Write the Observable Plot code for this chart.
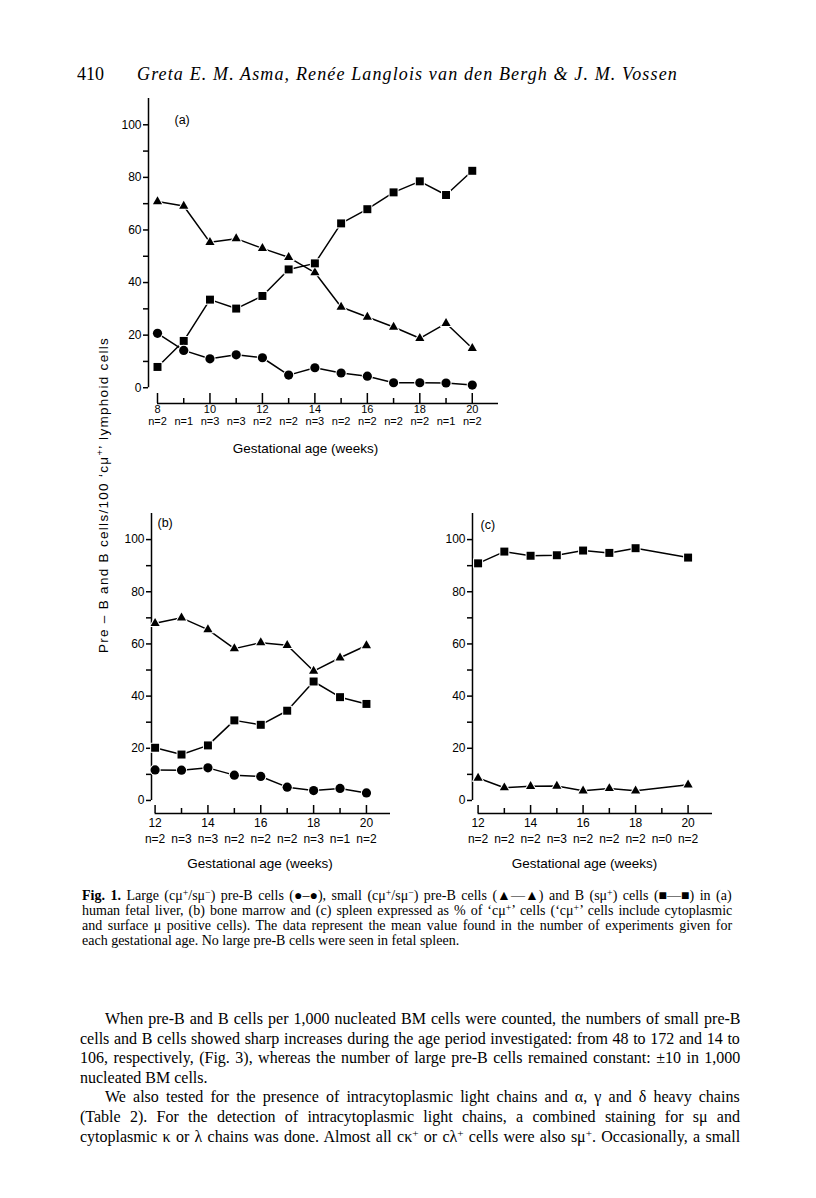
<!DOCTYPE html>
<html>
<head>
<meta charset="utf-8">
<script src="https://cdn.jsdelivr.net/npm/d3@7"></script>
<script src="https://cdn.jsdelivr.net/npm/@observablehq/plot@0.6"></script>
<style>
  html, body { margin: 0; padding: 0; background: #fff; }
  #page { position: relative; width: 816px; height: 1198px; overflow: hidden; background: #fff; color: #000; font-family: "Liberation Serif", "Times New Roman", serif; }
  .abs { position: absolute; }
  .line { display: inline-block; white-space: nowrap; }
  sup { font-size: 0.7em; vertical-align: 0.45em; line-height: 0; }
  #ylabel { position: absolute; left: 103px; top: 495px; transform: translate(-50%, -50%) rotate(-90deg); white-space: nowrap; font-family: "Liberation Sans", Arial, sans-serif; font-size: 13.5px; }
</style>
</head>
<body>
<div id="page">
  <div class="abs" style="left:77px; top:64px; font-size:18px;"><span class="line" id="pageno">410</span></div>
  <div class="abs" style="left:137px; top:64px; font-size:18px; font-style:italic;"><span class="line" id="authors">Greta E. M. Asma, Renée Langlois van den Bergh &amp; J. M. Vossen</span></div>

  <div id="ylabel"><span class="line" id="ylabtxt">Pre – B and B cells/100 ‘cμ<sup>+</sup>’ lymphoid cells</span></div>

  <div id="caption" class="abs" style="left:82px; top:888px; font-size:14px; line-height:15px;">
    <div><span class="line cap j"><b>Fig. 1.</b> Large (cμ<sup>+</sup>/sμ<sup>−</sup>) pre-B cells (●–●), small (cμ<sup>+</sup>/sμ<sup>−</sup>) pre-B cells (▲—▲) and B (sμ<sup>+</sup>) cells (■—■) in (a)</span></div>
    <div><span class="line cap j">human fetal liver, (b) bone marrow and (c) spleen expressed as % of ‘cμ<sup>+</sup>’ cells (‘cμ<sup>+</sup>’ cells include cytoplasmic</span></div>
    <div><span class="line cap j">and surface μ positive cells). The data represent the mean value found in the number of experiments given for</span></div>
    <div><span class="line cap">each gestational age. No large pre-B cells were seen in fetal spleen.</span></div>
  </div>

  <div id="para" class="abs" style="left:80px; top:1009px; font-size:16px; line-height:19.6px;">
    <div style="padding-left:25px"><span class="line par j" data-w="635">When pre-B and B cells per 1,000 nucleated BM cells were counted, the numbers of small pre-B</span></div>
    <div><span class="line par j">cells and B cells showed sharp increases during the age period investigated: from 48 to 172 and 14 to</span></div>
    <div><span class="line par j">106, respectively, (Fig. 3), whereas the number of large pre-B cells remained constant: ±10 in 1,000</span></div>
    <div><span class="line par">nucleated BM cells.</span></div>
    <div style="padding-left:25px"><span class="line par j" data-w="635">We also tested for the presence of intracytoplasmic light chains and α, γ and δ heavy chains</span></div>
    <div><span class="line par j">(Table 2). For the detection of intracytoplasmic light chains, a combined staining for sμ and</span></div>
    <div><span class="line par j">cytoplasmic κ or λ chains was done. Almost all cκ<sup>+</sup> or cλ<sup>+</sup> cells were also sμ<sup>+</sup>. Occasionally, a small</span></div>
  </div>
</div>

<script>
// ---------------- data ----------------
// Panel (a) fetal liver
const weeksA = [8, 9, 10, 11, 12, 13, 14, 15, 16, 17, 18, 19, 20];
const largePreB_A = [20.7, 14.2, 11.0, 12.5, 11.4, 4.8, 7.6, 5.6, 4.4, 1.9, 1.9, 1.8, 1.0];
const smallPreB_A = [70.8, 69.1, 55.3, 56.7, 53.0, 49.6, 43.8, 30.7, 26.9, 23.1, 18.8, 24.5, 15.0];
const bCells_A = [7.9, 17.8, 33.5, 30.1, 34.9, 45.0, 47.3, 62.5, 67.9, 74.3, 78.5, 73.3, 82.5];
const nA = [2, 1, 3, 3, 2, 2, 3, 2, 2, 2, 2, 1, 2];

// Panel (b) bone marrow
const weeksB = [12, 13, 14, 15, 16, 17, 18, 19, 20];
const largePreB_B = [11.7, 11.6, 12.5, 9.7, 9.2, 5.1, 3.8, 4.6, 2.9];
const smallPreB_B = [67.9, 70.0, 65.5, 58.2, 60.5, 59.5, 49.6, 54.7, 59.4];
const bCells_B = [20.2, 17.6, 21.1, 30.7, 29.0, 34.4, 45.6, 39.6, 37.0];
const nB = [2, 3, 3, 2, 2, 2, 3, 1, 2];

// Panel (c) spleen (no data at week 19, n=0)
const weeksC = [12, 13, 14, 15, 16, 17, 18, 20];
const smallPreB_C = [8.6, 4.9, 5.4, 5.5, 3.7, 4.6, 3.7, 6.0];
const bCells_C = [90.9, 95.4, 93.8, 94.0, 95.8, 94.9, 96.7, 93.1];
const nWeeksC = [12, 13, 14, 15, 16, 17, 18, 19, 20];
const nC = [2, 2, 2, 3, 2, 2, 2, 0, 2];

// ticks
const yMajorTicks = [0, 20, 40, 60, 80, 100];
const yMinorTicks = [10, 30, 50, 70, 90];
const xMajorA = [8, 10, 12, 14, 16, 18, 20];
const xMinorA = [9, 11, 13, 15, 17, 19];
const xMajorBC = [12, 14, 16, 18, 20];
const xMinorBC = [13, 15, 17, 19];

const panelTags = ["(a)", "(b)", "(c)"];
const xTitle = "Gestational age (weeks)";

// ---------------- drawing ----------------
function rowsOf(weeks, values) {
  return weeks.map((w, i) => ({ week: w, value: values[i] }));
}

function makePanel(cfg) {
  const ppu = (cfg.height - cfg.marginTop - cfg.marginBottom) / (cfg.yDomain[1] - cfg.yDomain[0]);
  const base = cfg.yDomain[0];
  const sw = 1.5;
  const marks = [];
  // y axis line
  marks.push(Plot.ruleX([cfg.xDomain[0]], { x: d => d, y1: () => 0, y2: () => cfg.yDomain[1], stroke: "black", strokeWidth: sw }));
  marks.push(Plot.axisY({ ticks: yMajorTicks, anchor: "left", tickSize: 5, tickPadding: 2, fontSize: 12, label: null, strokeWidth: sw }));
  marks.push(Plot.axisY({ ticks: yMinorTicks, anchor: "left", tickSize: 5, tickFormat: () => "", label: null, strokeWidth: sw }));
  // x axis line & upward ticks
  marks.push(Plot.ruleY([base], { y: d => d, x1: () => cfg.firstWeek, x2: () => cfg.xDomain[1], stroke: "black", strokeWidth: sw }));
  marks.push(Plot.ruleX(cfg.xMajor, { x: d => d, y1: () => base, y2: () => base + cfg.majorLen / ppu, stroke: "black", strokeWidth: sw }));
  marks.push(Plot.ruleX(cfg.xMinor, { x: d => d, y1: () => base, y2: () => base + cfg.minorLen / ppu, stroke: "black", strokeWidth: sw }));
  marks.push(Plot.axisX({ ticks: cfg.xMajor, anchor: "bottom", tickSize: 0, tickPadding: cfg.tickLabelPad, fontSize: cfg.xFont, label: null }));
  // n labels
  const nRows = cfg.nWeeks.map((w, i) => ({ week: w, label: "n=" + cfg.nVals[i] }));
  marks.push(Plot.text(nRows, { x: "week", text: "label", frameAnchor: "bottom", dy: cfg.nDy, fontSize: cfg.xFont, ariaLabel: "n-labels" }));
  // axis title
  marks.push(Plot.text([xTitle], { text: d => d, frameAnchor: "bottom", dy: cfg.titleDy, dx: cfg.titleDx, fontSize: 13.5 }));
  // panel tag
  marks.push(Plot.text([cfg.tag], { text: d => d, frameAnchor: "top-left", dx: cfg.tagDx, dy: cfg.tagDy, textAnchor: "start", fontSize: 12.5 }));
  // series
  for (const s of cfg.series) {
    marks.push(Plot.line(rowsOf(s.weeks, s.values), { x: "week", y: "value", stroke: "black", strokeWidth: sw }));
  }
  for (const s of cfg.series) {
    marks.push(Plot.dot(rowsOf(s.weeks, s.values), { x: "week", y: "value", symbol: s.symbol, r: s.r, fill: "black", stroke: "white", strokeWidth: 2, paintOrder: "stroke" }));
  }
  const svg = Plot.plot({
    width: cfg.width, height: cfg.height,
    marginLeft: cfg.marginLeft, marginRight: cfg.marginRight, marginTop: cfg.marginTop, marginBottom: cfg.marginBottom,
    x: { domain: cfg.xDomain, axis: null },
    y: { domain: cfg.yDomain, axis: null },
    style: { fontFamily: "'Liberation Sans', Arial, sans-serif", fontSize: "12px", color: "black", background: "transparent" },
    marks
  });
  svg.querySelectorAll('g[aria-label="n-labels"] text').forEach(t => {
    const s = t.textContent;
    t.textContent = "";
    const ts = document.createElementNS("http://www.w3.org/2000/svg", "tspan");
    ts.setAttribute("font-style", "italic");
    ts.textContent = s.slice(0, 1);
    t.appendChild(ts);
    t.appendChild(document.createTextNode(s.slice(1)));
  });
  const holder = document.createElement("div");
  holder.className = "abs";
  holder.style.left = cfg.left + "px";
  holder.style.top = cfg.top + "px";
  holder.appendChild(svg);
  document.getElementById("page").appendChild(holder);
}

makePanel({
  left: 0, top: 60, width: 513, height: 410,
  marginLeft: 148, marginRight: 15, marginTop: 38, marginBottom: 67,
  xDomain: [7.657, 21.0], yDomain: [-6, 110], firstWeek: 8,
  xMajor: xMajorA, xMinor: xMinorA, majorLen: 10, minorLen: 5,
  xFont: 11, tickLabelPad: 2, nDy: 21.5, titleDy: 49, titleDx: -18,
  nWeeks: weeksA, nVals: nA,
  tag: panelTags[0], tagDx: 26, tagDy: 17,
  series: [
    { weeks: weeksA, values: smallPreB_A, symbol: "triangle", r: 3.4 },
    { weeks: weeksA, values: bCells_A, symbol: "square", r: 4.5 },
    { weeks: weeksA, values: largePreB_A, symbol: "circle", r: 4.6 }
  ]
});

makePanel({
  left: 0, top: 480, width: 400, height: 400,
  marginLeft: 151, marginRight: 10, marginTop: 33, marginBottom: 67,
  xDomain: [11.864, 20.91], yDomain: [-5, 110], firstWeek: 12,
  xMajor: xMajorBC, xMinor: xMinorBC, majorLen: 8, minorLen: 5,
  xFont: 12, tickLabelPad: 5, nDy: 29, titleDy: 54, titleDx: -11,
  nWeeks: weeksB, nVals: nB,
  tag: panelTags[1], tagDx: 6, tagDy: 5,
  series: [
    { weeks: weeksB, values: smallPreB_B, symbol: "triangle", r: 3.4 },
    { weeks: weeksB, values: bCells_B, symbol: "square", r: 4.5 },
    { weeks: weeksB, values: largePreB_B, symbol: "circle", r: 4.6 }
  ]
});

makePanel({
  left: 400, top: 480, width: 322, height: 400,
  marginLeft: 72, marginRight: 10, marginTop: 33, marginBottom: 67,
  xDomain: [11.787, 20.93], yDomain: [-5, 110], firstWeek: 12,
  xMajor: xMajorBC, xMinor: xMinorBC, majorLen: 8, minorLen: 5,
  xFont: 12, tickLabelPad: 5, nDy: 29, titleDy: 54, titleDx: -8,
  nWeeks: nWeeksC, nVals: nC,
  tag: panelTags[2], tagDx: 8, tagDy: 7,
  series: [
    { weeks: weeksC, values: smallPreB_C, symbol: "triangle", r: 3.4 },
    { weeks: weeksC, values: bCells_C, symbol: "square", r: 4.5 }
  ]
});

// ---------------- text fitting ----------------
function fitLine(el, target, justify) {
  const w = el.offsetWidth;
  if (w > target) {
    el.style.transformOrigin = "0 50%";
    el.style.transform = "scaleX(" + (target / w) + ")";
  } else if (justify) {
    const spaces = (el.textContent.match(/ /g) || []).length;
    if (spaces) el.style.wordSpacing = ((target - w) / spaces) + "px";
  }
}
function spaceTo(el, target) {
  const w = el.offsetWidth;
  const n = el.textContent.length;
  if (n > 1) el.style.letterSpacing = Math.max(-1, Math.min(2, (target - w) / (n - 1))) + "px";
}
document.querySelectorAll(".cap").forEach(el => fitLine(el, +(el.dataset.w || 650), el.classList.contains("j")));
document.querySelectorAll(".par").forEach(el => fitLine(el, +(el.dataset.w || 660), el.classList.contains("j")));
spaceTo(document.getElementById("authors"), 540);
spaceTo(document.getElementById("ylabtxt"), 315);
</script>
</body>
</html>
